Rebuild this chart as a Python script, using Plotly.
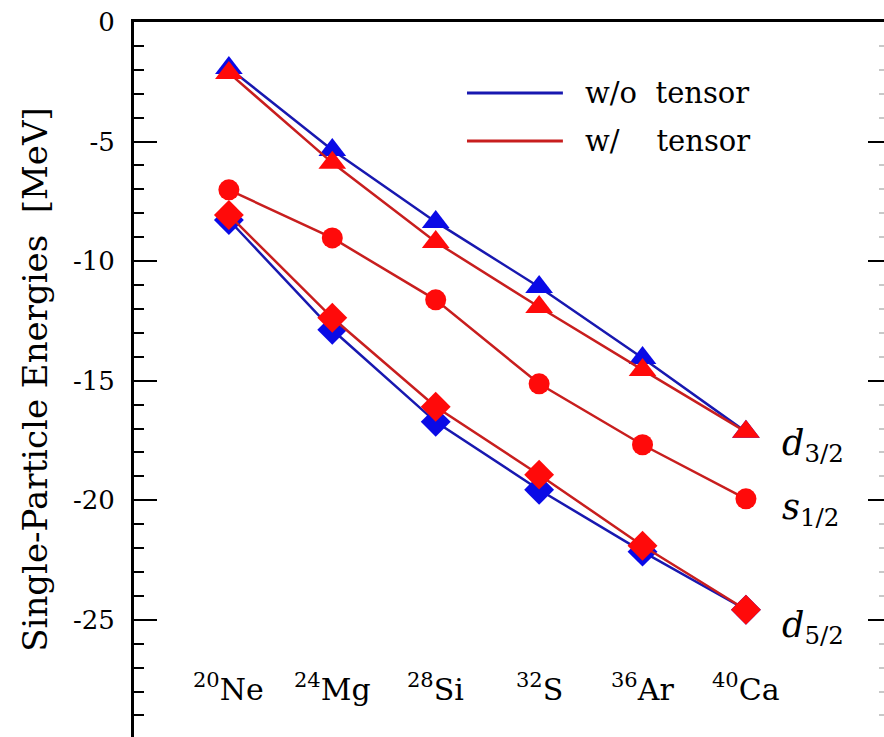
import plotly.graph_objects as go

# Data
mass_numbers = [20, 24, 28, 32, 36, 40]
nucleus_labels = ["<sup>20</sup>Ne", "<sup>24</sup>Mg", "<sup>28</sup>Si",
                  "<sup>32</sup>S", "<sup>36</sup>Ar", "<sup>40</sup>Ca"]

d32_wo = [-1.92, -5.35, -8.36, -11.08, -14.05, -17.14]
d32_w = [-2.13, -5.89, -9.20, -11.92, -14.55, -17.14]
s12_w = [-7.02, -9.03, -11.62, -15.13, -17.68, -19.94]
d52_wo = [-8.28, -12.87, -16.72, -19.56, -22.15, -24.58]
d52_w = [-8.07, -12.37, -16.09, -18.93, -21.90, -24.58]

y_tickvals = [0, -5, -10, -15, -20, -25]
y_ticktext = ["0", "-5", "-10", "-15", "-20", "-25"]

orbital_labels = ["<i>d</i><sub>3/2</sub>",
                  "<i>s</i><sub>1/2</sub>",
                  "<i>d</i><sub>5/2</sub>"]
orbital_label_y = [-17.7, -20.4, -25.3]

legend_names = ["w/o&nbsp;&nbsp;tensor", "w/&nbsp;&nbsp;&nbsp;&nbsp;tensor"]

BLUE_LINE = "#1818b0"
BLUE_MK = "#0a0ae6"
RED_LINE = "#c81e1e"
RED_MK = "#ff0a0a"
FONT = "DejaVu Serif"

fig = go.Figure()

def add(y, lc, mc, sym, size):
    fig.add_trace(go.Scatter(
        x=mass_numbers, y=y, mode="lines+markers",
        line=dict(color=lc, width=2.5),
        marker=dict(color=mc, symbol=sym, size=size, line=dict(width=0)),
        showlegend=False, cliponaxis=False))

add(d32_wo, BLUE_LINE, BLUE_MK, "triangle-up", 24)
add(d52_wo, BLUE_LINE, BLUE_MK, "diamond", 23)
add(d32_w, RED_LINE, RED_MK, "triangle-up", 24)
add(s12_w, RED_LINE, RED_MK, "circle", 21)
add(d52_w, RED_LINE, RED_MK, "diamond", 23)

# dummy trace for right axis
fig.add_trace(go.Scatter(x=[None], y=[None], yaxis="y2", showlegend=False))

annotations = []
for a, lab in zip(mass_numbers, nucleus_labels):
    annotations.append(dict(x=a, y=-27.85, xref="x", yref="y", text=lab,
                            showarrow=False, xanchor="center", yanchor="middle",
                            font=dict(family=FONT, size=30, color="black")))
for yv, lab in zip(orbital_label_y, orbital_labels):
    annotations.append(dict(x=41.3, y=yv, xref="x", yref="y", text=lab,
                            showarrow=False, xanchor="left", yanchor="middle",
                            font=dict(family=FONT, size=35, color="black")))

shapes = []
for yv, col, name in zip([-2.97, -4.98], [BLUE_LINE, RED_LINE], legend_names):
    shapes.append(dict(type="line", xref="x", yref="y", x0=29.21, x1=32.92,
                       y0=yv, y1=yv, line=dict(color=col, width=3)))
    annotations.append(dict(x=33.69, y=yv, xref="x", yref="y", text=name,
                            showarrow=False, xanchor="left", yanchor="middle",
                            font=dict(family=FONT, size=29, color="black")))

fig.update_layout(
    width=884, height=737,
    margin=dict(l=134, r=0, t=22, b=0),
    paper_bgcolor="white", plot_bgcolor="white",
    font=dict(family=FONT, color="black"),
    xaxis=dict(range=[16.33, 45.34], side="top", showline=True, linecolor="black",
               linewidth=3, showticklabels=False, ticks="", showgrid=False,
               zeroline=False),
    yaxis=dict(range=[-29.9, 0], showline=True, linecolor="black", linewidth=3,
               ticks="inside", ticklen=23, tickwidth=2, tickcolor="black",
               tickmode="array", tickvals=y_tickvals, ticktext=y_ticktext,
               showgrid=False, zeroline=False,
               minor=dict(ticks="inside", ticklen=10, tickwidth=2, dtick=1,
                          tick0=0, tickcolor="black", showgrid=False),
               tickfont=dict(family=FONT, size=26, color="black"),
               ticklabelstandoff=11,
               title=dict(text="Single-Particle Energies&nbsp;&nbsp;[MeV]",
                          font=dict(family=FONT, size=34, color="black"),
                          standoff=16)),
    yaxis2=dict(range=[-29.9, 0], overlaying="y", side="right", anchor="x",
                showline=False, ticks="inside", ticklen=16, tickwidth=2,
                tickcolor="black", tickmode="array", tickvals=y_tickvals,
                showticklabels=False,
                showgrid=False, zeroline=False,
                minor=dict(ticks="inside", ticklen=5, tickwidth=2, dtick=1,
                           tick0=0, tickcolor="#c8c8c8", showgrid=False)),
    annotations=annotations,
    shapes=shapes,
)

fig.write_html("out.html")
